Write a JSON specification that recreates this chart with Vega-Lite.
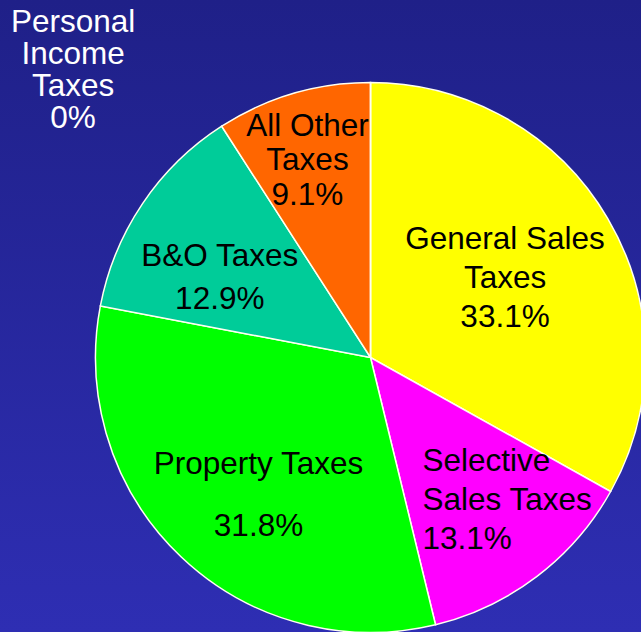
{
  "$schema": "https://vega.github.io/schema/vega-lite/v6.json",
  "width": 641,
  "height": 632,
  "autosize": {"type": "none"},
  "padding": 0,
  "background": "#24248f",
  "config": {
    "view": {
      "stroke": null,
      "fill": {"gradient": "linear", "x1": 0, "y1": 0, "x2": 0, "y2": 1,
        "stops": [{"offset": 0, "color": "#1f2088"}, {"offset": 1, "color": "#2e2eb3"}]}
    },
    "text": {"font": "Liberation Sans", "fontSize": 31.5, "lineBreak": "\n", "align": "center", "baseline": "middle", "color": "#000000"}
  },
  "data": {
    "values": [
      {"cat": "General Sales Taxes", "pct": 33.1, "label": "General Sales\nTaxes\n33.1%", "ord": 1},
      {"cat": "Selective Sales Taxes", "pct": 13.1, "label": "Selective\nSales Taxes\n13.1%", "ord": 2},
      {"cat": "Property Taxes", "pct": 31.8, "label": "Property Taxes\n31.8%", "ord": 3},
      {"cat": "B&O Taxes", "pct": 12.9, "label": "B&O Taxes\n12.9%", "ord": 4},
      {"cat": "All Other Taxes", "pct": 9.1, "label": "All Other\nTaxes\n9.1%", "ord": 5},
      {"cat": "Personal Income Taxes", "pct": 0, "label": "Personal\nIncome\nTaxes\n0%", "ord": 6}
    ]
  },
  "encoding": {
    "theta": {"field": "pct", "type": "quantitative", "stack": true},
    "order": {"field": "ord", "type": "quantitative"},
    "x": {"value": 370.5},
    "y": {"value": 357.5}
  },
  "layer": [
    {
      "mark": {"type": "arc", "outerRadius": 275, "stroke": "#fffff0", "strokeWidth": 1.5},
      "encoding": {
        "color": {"field": "cat", "type": "nominal", "legend": null,
          "scale": {"domain": ["General Sales Taxes", "Selective Sales Taxes", "Property Taxes", "B&O Taxes", "All Other Taxes", "Personal Income Taxes"],
            "range": ["#ffff00", "#ff00ff", "#00ff00", "#00cc99", "#ff6600", "#3333cc"]}}
      }
    },
    {
      "mark": {"type": "text", "radius": 156, "lineHeight": 39, "dy": -39},
      "encoding": {"text": {"condition": {"test": "datum.cat === 'General Sales Taxes'", "field": "label"}, "value": ""}}
    },
    {
      "mark": {"type": "text", "radius": 153, "thetaOffset": 0.304, "lineHeight": 39, "dy": -39, "align": "left"},
      "encoding": {"text": {"condition": {"test": "datum.cat === 'Selective Sales Taxes'", "field": "label"}, "value": ""}}
    },
    {
      "mark": {"type": "text", "radius": 178.5, "thetaOffset": -0.082, "lineHeight": 62, "dy": -31},
      "encoding": {"text": {"condition": {"test": "datum.cat === 'Property Taxes'", "field": "label"}, "value": ""}}
    },
    {
      "mark": {"type": "text", "radius": 170, "thetaOffset": -0.113, "lineHeight": 43, "dy": -21.5},
      "encoding": {"text": {"condition": {"test": "datum.cat === 'B&O Taxes'", "field": "label"}, "value": ""}}
    },
    {
      "mark": {"type": "text", "radius": 206, "thetaOffset": -0.025, "lineHeight": 34.5, "dy": -34.5},
      "encoding": {"text": {"condition": {"test": "datum.cat === 'All Other Taxes'", "field": "label"}, "value": ""}}
    },
    {
      "mark": {"type": "text", "radius": 413, "thetaOffset": -0.804, "lineHeight": 32, "dy": -48, "color": "#ffffff"},
      "encoding": {"text": {"condition": {"test": "datum.cat === 'Personal Income Taxes'", "field": "label"}, "value": ""}}
    }
  ]
}
